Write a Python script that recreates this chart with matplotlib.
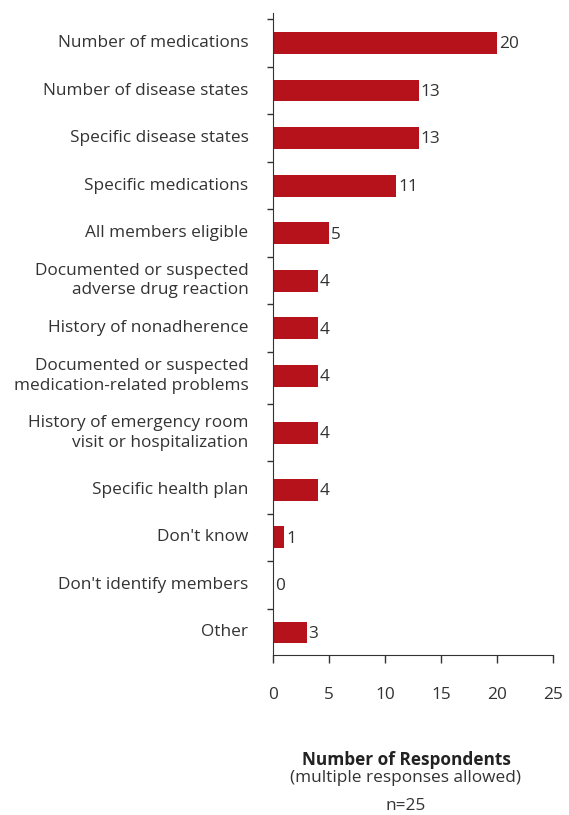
import matplotlib.pyplot as plt

plt.rcParams["font.family"] = ["Open Sans", "DejaVu Sans"]

categories = [
    "Number of medications",
    "Number of disease states",
    "Specific disease states",
    "Specific medications",
    "All members eligible",
    "Documented or suspected\nadverse drug reaction",
    "History of nonadherence",
    "Documented or suspected\nmedication-related problems",
    "History of emergency room\nvisit or hospitalization",
    "Specific health plan",
    "Don't know",
    "Don't identify members",
    "Other",
]
respondents = [20, 13, 13, 11, 5, 4, 4, 4, 4, 4, 1, 0, 3]
x_ticks = [0, 5, 10, 15, 20, 25]

# row spacing (two wrapped rows get a little more room)
row_gaps = [1, 1, 1, 1, 1, 1, 1, 1.2, 1.2, 1, 1, 1]

BAR_COLOR = "#b5121b"
TEXT_COLOR = "#333333"
FS = 12.4

y_pos = [0.0]
for g in row_gaps:
    y_pos.append(y_pos[-1] + g)

fig = plt.figure(figsize=(5.69, 8.15), dpi=100)
ax = fig.add_axes([0.48, 0.196, 0.492, 0.788])

ax.barh(y_pos, respondents, height=0.46, color=BAR_COLOR)
for y, v in zip(y_pos, respondents):
    ax.text(v + 0.15, y + 0.03, str(v), va="center", ha="left", fontsize=FS, color=TEXT_COLOR)

ax.set_xlim(0, 25)
ax.set_ylim(y_pos[-1] + 0.48, -0.63)
ax.set_xticks(x_ticks)
ax.set_xticklabels([str(t) for t in x_ticks], fontsize=FS, color=TEXT_COLOR)
ax.tick_params(axis="x", length=6, width=1, pad=17, color=TEXT_COLOR)

# category labels as text, tick marks at row boundaries
bounds = [-0.5] + [(a + b) / 2 for a, b in zip(y_pos[:-1], y_pos[1:])]
ax.set_yticks(bounds)
ax.set_yticklabels([])
ax.tick_params(axis="y", length=4, width=1, color=TEXT_COLOR)
for y, name in zip(y_pos, categories):
    ax.text(-2.2, y, name, ha="right", va="center", fontsize=FS,
            color=TEXT_COLOR, linespacing=1.3)

for s in ["top", "right"]:
    ax.spines[s].set_visible(False)
ax.spines["left"].set_color(TEXT_COLOR)
ax.spines["bottom"].set_color(TEXT_COLOR)

cx = 406 / 569
fig.text(cx, 1 - 760 / 815, "Number of Respondents", ha="center", va="center",
         fontsize=FS, fontweight="bold", color="#222222")
fig.text(cx, 1 - 778 / 815, "(multiple responses allowed)", ha="center", va="center",
         fontsize=FS, color=TEXT_COLOR)
fig.text(cx, 1 - 806 / 815, "n=25", ha="center", va="center",
         fontsize=FS, color=TEXT_COLOR)

fig.savefig("out.png", dpi=100)
